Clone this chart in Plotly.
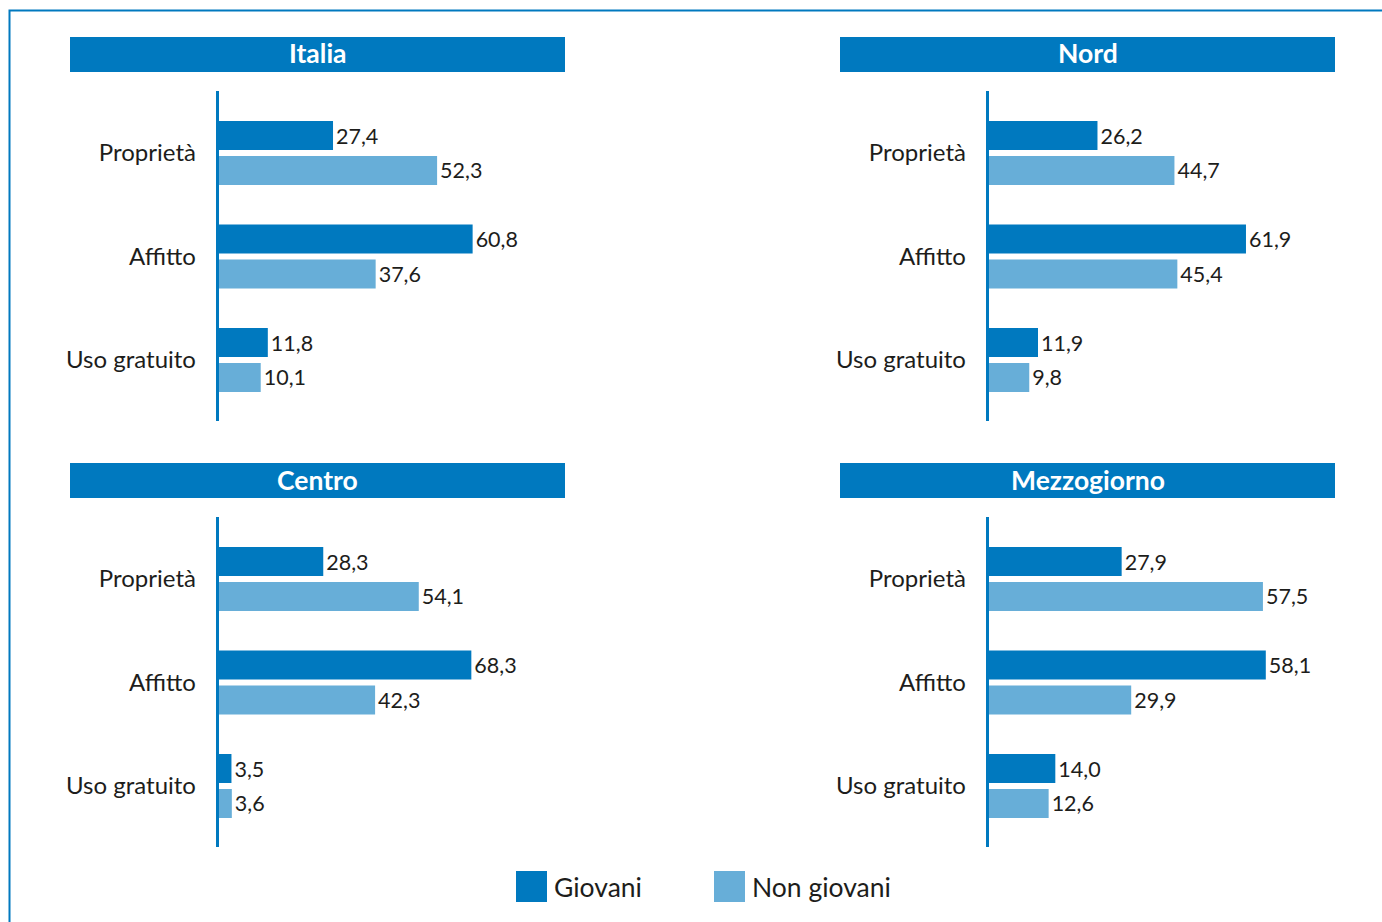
import plotly.graph_objects as go

# Categories and values (percentages)
categories = ["Proprietà", "Affitto", "Uso gratuito"]
regions = ["Italia", "Nord", "Centro", "Mezzogiorno"]

giovani_italia = [27.4, 60.8, 11.8]
non_giovani_italia = [52.3, 37.6, 10.1]
giovani_nord = [26.2, 61.9, 11.9]
non_giovani_nord = [44.7, 45.4, 9.8]
giovani_centro = [28.3, 68.3, 3.5]
non_giovani_centro = [54.1, 42.3, 3.6]
giovani_mezzogiorno = [27.9, 58.1, 14.0]
non_giovani_mezzogiorno = [57.5, 29.9, 12.6]

series_labels = ["Giovani", "Non giovani"]

W, H = 1382, 922
DARK = "#0079BF"
LIGHT = "#67AED8"
TEXT = "#1d1d1b"
FONT = "Lato"


def px_x(x):
    return x / W


def px_y(y):
    return 1 - y / H


def fmt(v):
    return f"{v:.1f}".replace(".", ",")


# panel geometry in pixels: plot-area x/y extent, header bar, x-axis max
panels = [
    dict(name=regions[0], g=giovani_italia, n=non_giovani_italia,
         xd=(218.5, 565), yd=(91, 421), bar=(70, 565, 37, 72), xmax=82.9),
    dict(name=regions[1], g=giovani_nord, n=non_giovani_nord,
         xd=(988.5, 1335), yd=(91, 421), bar=(840, 1335, 37, 72), xmax=83.3),
    dict(name=regions[2], g=giovani_centro, n=non_giovani_centro,
         xd=(218.5, 565), yd=(517, 847), bar=(70, 565, 463, 498), xmax=93.6),
    dict(name=regions[3], g=giovani_mezzogiorno, n=non_giovani_mezzogiorno,
         xd=(988.5, 1335), yd=(517, 847), bar=(840, 1335, 463, 498), xmax=72.6),
]

fig = go.Figure()
shapes = []
annotations = []
layout_axes = {}

for i, p in enumerate(panels, start=1):
    xa = "x" if i == 1 else f"x{i}"
    ya = "y" if i == 1 else f"y{i}"
    for vals, color, off, lab in [
        (p["g"], DARK, -0.308, series_labels[0]),
        (p["n"], LIGHT, 0.029, series_labels[1]),
    ]:
        fig.add_trace(go.Bar(
            orientation="h", x=vals, y=categories, name=lab,
            xaxis=xa, yaxis=ya,
            marker=dict(color=color, line=dict(width=0)),
            width=0.28, offset=off,
            text=[fmt(v) for v in vals], textposition="outside",
            textfont=dict(family=FONT, size=21.5, color=TEXT),
            constraintext="none", cliponaxis=False,
            showlegend=False,
        ))

    xkey = "xaxis" if i == 1 else f"xaxis{i}"
    ykey = "yaxis" if i == 1 else f"yaxis{i}"
    layout_axes[xkey] = dict(
        domain=[px_x(p["xd"][0]), px_x(p["xd"][1])], anchor=ya,
        range=[0, p["xmax"]], visible=False, fixedrange=True,
    )
    layout_axes[ykey] = dict(
        domain=[px_y(p["yd"][1]), px_y(p["yd"][0])], anchor=xa,
        type="category", categoryorder="array", categoryarray=categories,
        range=[2.590, -0.598],
        showline=True, linecolor=DARK, linewidth=2.5,
        showgrid=False, zeroline=False, ticks="",
        ticklabelstandoff=15,
        tickfont=dict(family=FONT, size=24, color=TEXT),
        fixedrange=True,
    )

    bx0, bx1, by0, by1 = p["bar"]
    shapes.append(dict(
        type="rect", xref="paper", yref="paper",
        x0=px_x(bx0), x1=px_x(bx1), y0=px_y(by1), y1=px_y(by0),
        fillcolor=DARK, line=dict(width=0), layer="below",
    ))
    annotations.append(dict(
        xref="paper", yref="paper", x=px_x((bx0 + bx1) / 2),
        y=px_y((by0 + by1) / 2 - 1), xanchor="center", yanchor="middle",
        text=f"<b>{p['name']}</b>", showarrow=False,
        font=dict(family=FONT, size=26.5, color="white"),
    ))

# outer frame
shapes.append(dict(
    type="rect", xref="paper", yref="paper",
    x0=px_x(9.5), x1=1.02, y0=-0.02, y1=px_y(10.5),
    line=dict(color=DARK, width=2), fillcolor="rgba(0,0,0,0)",
))

# legend
legend_items = [(series_labels[0], DARK, 516), (series_labels[1], LIGHT, 714)]
for lab, color, lx in legend_items:
    shapes.append(dict(
        type="rect", xref="paper", yref="paper",
        x0=px_x(lx), x1=px_x(lx + 31), y0=px_y(902), y1=px_y(871),
        fillcolor=color, line=dict(width=0),
    ))
    annotations.append(dict(
        xref="paper", yref="paper", x=px_x(lx + 36), y=px_y(886.5),
        xanchor="left", yanchor="middle", text=lab, showarrow=False,
        font=dict(family=FONT, size=26.5, color=TEXT),
    ))

fig.update_layout(
    width=W, height=H,
    margin=dict(l=0, r=0, t=0, b=0),
    paper_bgcolor="white", plot_bgcolor="white",
    barmode="overlay", showlegend=False,
    font=dict(family=FONT, color=TEXT),
    shapes=shapes, annotations=annotations,
    **layout_axes,
)

fig.write_html("out.html")
